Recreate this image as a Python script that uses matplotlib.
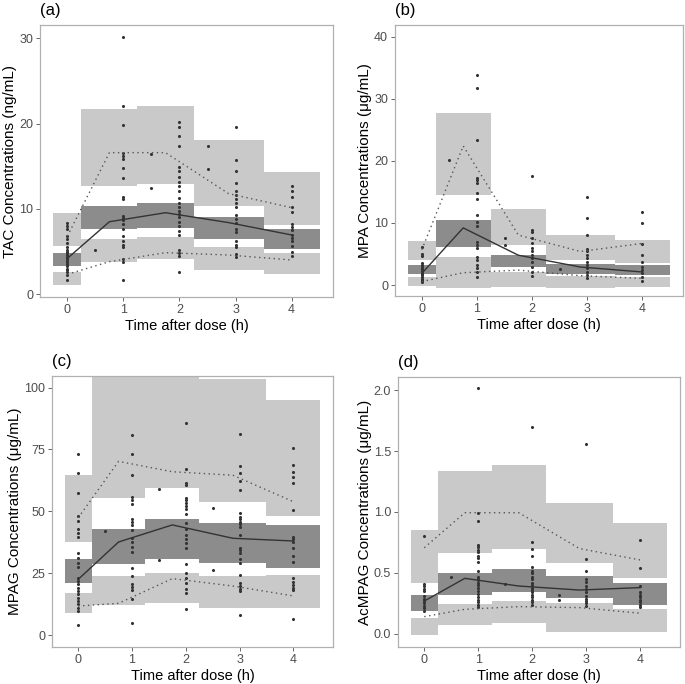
import numpy as np
import matplotlib
matplotlib.use("Agg")
import matplotlib.pyplot as plt
from matplotlib.patches import Rectangle

plt.rcParams['font.family'] = ['Liberation Sans', 'DejaVu Sans']

# time bins used for the prediction intervals
bin_lo = [-0.25, 0.25, 1.25, 2.25, 3.5]
bin_hi = [0.25, 1.25, 2.25, 3.5, 4.5]
bin_mid = [0, 0.75, 1.75, 2.875, 4]

# ---- (a) TAC ----
tac_up = [(5.66, 9.49), (12.7, 21.7), (12.9, 22.1), (10.3, 18.1), (8.13, 14.3)]
tac_med = [(3.32, 4.88), (7.6, 10.4), (7.77, 10.7), (6.48, 9.02), (5.27, 7.66)]
tac_low = [(1.09, 2.66), (3.83, 6.45), (4.10, 6.76), (2.85, 5.59), (2.38, 4.88)]
tac_p50 = [4.2, 8.5, 9.56, 8.4, 6.95]
tac_p95 = [6.8, 16.6, 16.6, 11.8, 10.15]
tac_p05 = [2.34, 3.82, 4.88, 4.6, 4.02]
tac_obs = {
    0: [8.3, 8.0, 7.6, 6.8, 6.5, 6.0, 5.5, 5.2, 5.0, 4.8, 4.6, 4.4, 4.2, 4.0,
        3.8, 3.6, 3.3, 3.0, 2.8, 2.6, 2.3, 1.7],
    0.5: [5.15],
    1: [30.1, 22.1, 19.8, 16.6, 16.2, 15.8, 14.8, 13.6, 11.4, 11.2, 9.2, 8.9,
        8.7, 8.2, 7.7, 6.8, 6.25, 5.8, 5.5, 4.1, 3.75, 1.7],
    1.5: [16.4, 12.5],
    2: [20.2, 19.6, 18.55, 17.4, 14.95, 14.4, 13.8, 13.2, 12.7, 12.1, 11.25,
        10.7, 10.2, 9.8, 9.4, 9.0, 8.5, 8.05, 7.4, 6.9, 5.2, 4.8, 4.5, 2.65],
    2.5: [17.4, 14.7],
    3: [19.6, 15.7, 14.5, 13.0, 12.1, 11.6, 11.2, 10.7, 10.2, 9.3, 8.8, 8.3,
        7.7, 7.3, 6.2, 5.8, 5.5, 4.7, 4.4],
    4: [12.7, 12.1, 11.4, 10.2, 9.6, 8.2, 7.9, 7.5, 7.0, 6.6, 6.2, 5.6, 5.0, 4.5],
}

# ---- (b) MPA ----
mpa_up = [(4.0, 7.1), (14.5, 27.7), (6.44, 12.3), (4.1, 8.05), (3.5, 7.25)]
mpa_med = [(1.8, 3.2), (6.07, 10.5), (2.85, 4.83), (1.8, 3.4), (1.65, 3.2)]
mpa_low = [(-0.1, 1.3), (-0.53, 4.46), (-0.4, 2.1), (-0.45, 1.45), (-0.3, 1.34)]
mpa_p50 = [1.88, 9.2, 4.8, 2.9, 2.1]
mpa_p95 = [5.7, 22.4, 8.05, 5.4, 6.7]
mpa_p05 = [0.55, 1.98, 2.4, 1.5, 1.07]
mpa_obs = {
    0: [6.2, 5.0, 4.7, 3.5, 3.3, 3.0, 2.8, 2.5, 2.3, 2.0, 1.8, 1.6, 1.3, 1.0,
        0.8, 0.6, 0.5],
    0.5: [20.1],
    1: [33.8, 31.8, 23.4, 17.3, 16.9, 16.5, 14.8, 13.9, 11.3, 10.1, 9.45, 6.9,
        6.45, 6.0, 4.56, 4.0, 3.3, 2.8, 2.15, 1.24],
    1.5: [7.5, 6.4],
    2: [17.6, 8.9, 8.5, 7.5, 6.7, 6.0, 5.4, 4.8, 4.3, 3.66, 2.95, 2.15, 1.4],
    2.5: [2.5],
    3: [14.2, 10.8, 8.05, 5.8, 5.4, 4.8, 4.3, 3.76, 3.2, 2.7, 2.15, 1.6, 1.07],
    4: [11.7, 10.0, 6.6, 4.8, 3.76, 2.95, 2.4, 1.9, 1.24, 0.65],
}

# ---- (c) MPAG ----
mpag_up = [(37.6, 64.7), (55.5, 108), (59.3, 106), (53.8, 103.4), (48.1, 95.0)]
mpag_med = [(20.9, 30.6), (28.6, 42.7), (30.9, 46.8), (29.0, 45.4), (27.0, 44.3)]
mpag_low = [(8.8, 16.9), (12.0, 23.9), (13.1, 25.2), (11.0, 23.9), (11.0, 24.1)]
mpag_p50 = [22.5, 37.6, 44.5, 39.1, 38.0]
mpag_p95 = [47.4, 70.2, 66.0, 64.6, 53.9]
mpag_p05 = [11.7, 12.8, 22.8, 19.8, 15.8]
mpag_obs = {
    0: [73.3, 65.5, 57.3, 48.1, 46.1, 43.0, 41.4, 39.6, 33.0, 31.3, 29.2, 27.6,
        23.2, 21.8, 20.5, 19.1, 17.8, 16.4, 15.1, 13.7, 12.4, 10.8, 9.7, 4.0],
    0.5: [42.2],
    1: [80.9, 73.1, 64.7, 55.8, 54.6, 53.1, 46.8, 45.8, 44.5, 42.5, 39.3, 37.6,
        35.7, 33.7, 27.1, 23.7, 20.7, 19.5, 18.2, 14.4, 5.0],
    1.5: [58.9, 30.3],
    2: [85.9, 67.3, 61.3, 60.5, 55.5, 54.4, 53.2, 52.2, 51.1, 49.0, 45.4, 43.0,
        40.3, 38.9, 37.1, 35.1, 28.6, 24.9, 23.2, 20.9, 18.5, 17.1, 10.6],
    2.5: [51.5, 26.3],
    3: [81.2, 68.3, 65.6, 62.3, 58.6, 49.2, 47.8, 46.8, 45.7, 44.8, 43.7, 40.4,
        35.3, 34.4, 33.3, 30.9, 29.2, 24.1, 21.1, 19.8, 18.7, 17.8, 8.2],
    4: [75.5, 68.7, 66.0, 63.9, 61.3, 50.5, 39.6, 38.7, 37.7, 35.2, 31.9, 29.6,
        22.9, 21.4, 20.1, 19.1, 18.2, 6.3],
}

# ---- (d) AcMPAG ----
acmpag_up = [(0.42, 0.852), (0.667, 1.336), (0.70, 1.383), (0.579, 1.076), (0.461, 0.907)]
acmpag_med = [(0.188, 0.317), (0.317, 0.503), (0.344, 0.535), (0.298, 0.475), (0.235, 0.415)]
acmpag_low = [(-0.005, 0.134), (0.071, 0.243), (0.093, 0.268), (0.016, 0.257), (0.016, 0.207)]
acmpag_p50 = [0.27, 0.456, 0.393, 0.36, 0.38]
acmpag_p95 = [0.707, 0.994, 0.994, 0.70, 0.607]
acmpag_p05 = [0.142, 0.202, 0.224, 0.216, 0.17]
acmpag_obs = {
    0: [0.80, 0.41, 0.39, 0.37, 0.35, 0.31, 0.29, 0.27, 0.25, 0.23, 0.21, 0.19],
    0.5: [0.47],
    1: [2.02, 0.99, 0.93, 0.73, 0.71, 0.69, 0.67, 0.64, 0.62, 0.59, 0.52, 0.47,
        0.45, 0.44, 0.42, 0.40, 0.38, 0.35, 0.33, 0.30, 0.28, 0.26, 0.24, 0.22],
    1.5: [0.41],
    2: [1.70, 0.75, 0.70, 0.64, 0.55, 0.52, 0.50, 0.47, 0.45, 0.42, 0.40, 0.38,
        0.36, 0.34, 0.32, 0.30, 0.28, 0.26, 0.24],
    2.5: [0.317, 0.28],
    3: [1.555, 0.617, 0.52, 0.45, 0.43, 0.39, 0.37, 0.34, 0.31, 0.29, 0.27, 0.25, 0.23],
    4: [0.77, 0.54, 0.39, 0.34, 0.32, 0.30, 0.28, 0.26, 0.24, 0.22],
}

panels = [
    ("(a)", "TAC Concentrations (ng/mL)", tac_up, tac_med, tac_low, tac_p50, tac_p95, tac_p05, tac_obs,
     [0, 10, 20, 30], ["0", "10", "20", "30"], (-0.32, 31.56), (40, 333, 25, 297)),
    ("(b)", "MPA Concentrations (\u03bcg/mL)", mpa_up, mpa_med, mpa_low, mpa_p50, mpa_p95, mpa_p05, mpa_obs,
     [0, 10, 20, 30, 40], ["0", "10", "20", "30", "40"], (-1.77, 41.88), (395, 683, 25, 296)),
    ("(c)", "MPAG Concentrations (\u03bcg/mL)", mpag_up, mpag_med, mpag_low, mpag_p50, mpag_p95, mpag_p05, mpag_obs,
     [0, 25, 50, 75, 100], ["0", "25", "50", "75", "100"], (-4.85, 104.7), (52, 333, 376, 647)),
    ("(d)", "AcMPAG Concentrations (\u03bcg/mL)", acmpag_up, acmpag_med, acmpag_low, acmpag_p50, acmpag_p95,
     acmpag_p05, acmpag_obs, [0, 0.5, 1.0, 1.5, 2.0], ["0.0", "0.5", "1.0", "1.5", "2.0"],
     (-0.107, 2.107), (398, 680, 377, 647)),
]

W, H = 685, 684
fig = plt.figure(figsize=(W / 100, H / 100), dpi=100)

light = '#c9c9c9'
dark = '#8c8c8c'
ink = '#333333'

for (lab, ylab, up, med, low, p50, p95, p05, obs, yt, ytl, ylim, box) in panels:
    l, r, t, b = box
    ax = fig.add_axes([l / W, 1 - b / H, (r - l) / W, (b - t) / H])
    for i in range(len(bin_lo)):
        for (lo, hi), col in ((up[i], light), (low[i], light), (med[i], dark)):
            ax.add_patch(Rectangle((bin_lo[i], lo), bin_hi[i] - bin_lo[i], hi - lo,
                                   facecolor=col, edgecolor='none', zorder=1))
    for tm, vals in obs.items():
        ax.scatter(np.full(len(vals), tm), vals, s=5, color=ink, linewidths=0, zorder=3)
    ax.plot(bin_mid, p50, color=ink, lw=1.0, zorder=4)
    ax.plot(bin_mid, p95, color='#555555', lw=1.0, ls=(0, (1, 2.5)), zorder=4)
    ax.plot(bin_mid, p05, color='#555555', lw=1.0, ls=(0, (1, 2.5)), zorder=4)

    ax.set_xlim(-0.4875, 4.7375)
    ax.set_ylim(*ylim)
    ax.set_xticks([0, 1, 2, 3, 4])
    ax.set_yticks(yt)
    ax.set_yticklabels(ytl)
    ax.tick_params(colors='#4d4d4d', labelsize=9, length=3, width=0.6, pad=2)
    for sp in ax.spines.values():
        sp.set_color('#b0b0b0')
        sp.set_linewidth(0.9)
    ax.set_xlabel("Time after dose (h)", fontsize=10.5, labelpad=2)
    ax.set_ylabel(ylab, fontsize=11, labelpad=1.5)
    ax.text(0.0, 1.025, lab, transform=ax.transAxes, fontsize=12, ha='left', va='bottom')

fig.savefig("out.png", dpi=100)
